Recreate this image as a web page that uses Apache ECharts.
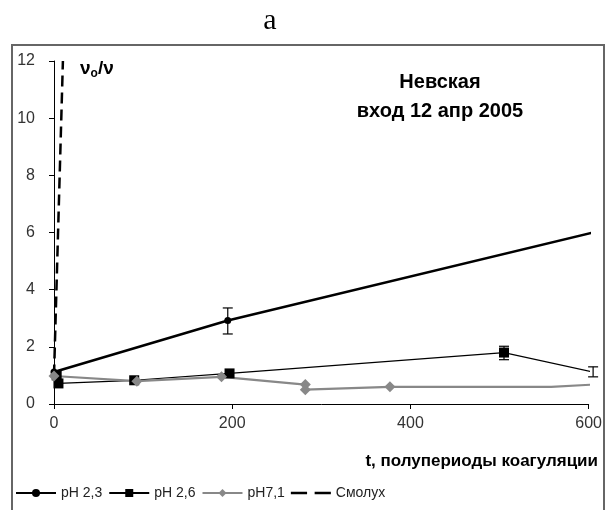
<!DOCTYPE html>
<html>
<head>
<meta charset="utf-8">
<script src="https://cdn.jsdelivr.net/npm/echarts@6/dist/echarts.min.js"></script>
<style>
  html, body { margin: 0; padding: 0; background: #fff; }
  #chart { width: 605px; height: 510px; }
</style>
</head>
<body>
<div id="chart"></div>
<script>
'use strict';
// данные
var seriesNames = ['pH 2,3', 'pH 2,6', 'pH7,1', 'Смолух'];
var ph23 = [[0, 1.12], [195, 2.92], [605, 6.0]];
var ph26 = [[3, 1.0], [5, 0.72], [90, 0.83], [197, 1.07], [505, 1.8], [605, 1.12]];
var ph71 = [[0, 0.98], [93, 0.8], [188, 0.95], [282, 0.68], [282, 0.5], [377, 0.6], [558, 0.6], [605, 0.68]];
var smolux = [[0, 1.0], [10, 12.0]];
// точки без маркера (за краем или перегиб линии)
var hiddenT = [558];
// планки погрешностей: t, низ, верх
var errT = [195, 505, 605];
var errLow = [2.45, 1.55, 0.95];
var errHigh = [3.36, 2.02, 1.3];
var xTicks = [0, 200, 400, 600];
var yTicks = [0, 2, 4, 6, 8, 10, 12];

var font = 'Liberation Sans, Arial, sans-serif';
var myChart = echarts.init(document.getElementById('chart'));

var xMax = xTicks[xTicks.length - 1];
function withMarks(arr) {
    return arr.map(function (p) {
        if (p[0] > xMax || hiddenT.indexOf(p[0]) >= 0) {
            return { value: p, symbol: 'none' };
        }
        return p;
    });
}

var errData = errT.map(function (t, i) { return [t, errLow[i], errHigh[i]]; });

var option = {
    animation: false,
    backgroundColor: '#fff',
    textStyle: { fontFamily: font },
    grid: { left: 54, top: 61, right: 15, bottom: 106, containLabel: false },
    xAxis: {
        type: 'value',
        min: xTicks[0], max: xMax, interval: 200,
        axisLine: { lineStyle: { color: '#000', width: 1 } },
        axisTick: { show: true, length: 5, inside: false, lineStyle: { color: '#000' } },
        axisLabel: { color: '#333', fontSize: 16, margin: 12, fontFamily: font },
        splitLine: { show: false }
    },
    yAxis: {
        type: 'value',
        min: yTicks[0], max: yTicks[yTicks.length - 1], interval: 2,
        axisLine: { show: true, lineStyle: { color: '#000', width: 1 } },
        axisTick: { show: true, length: 5, inside: false, lineStyle: { color: '#000' } },
        axisLabel: { color: '#333', fontSize: 16, margin: 19, fontFamily: font },
        splitLine: { show: false }
    },
    legend: {
        left: 10, top: 481,
        itemWidth: 40, itemHeight: 10, itemGap: 6,
        textStyle: { fontSize: 14, color: '#222', fontFamily: font },
        data: [
            seriesNames[0], seriesNames[1], seriesNames[2],
            { name: seriesNames[3], icon: 'path://M0,4h15v2.5h-15z M22,4h15v2.5h-15z', itemStyle: { color: '#000' } }
        ]
    },
    graphic: [
        { type: 'rect', shape: { x: 12, y: 45, width: 592, height: 480 },
          style: { fill: 'none', stroke: '#666', lineWidth: 2 }, silent: true },
        { type: 'text', x: 270, y: 6,
          style: { text: 'а', font: '30px "Liberation Serif", serif', fill: '#000', align: 'center' } },
        { type: 'text', x: 440, y: 68,
          style: { text: 'Невская\nвход 12 апр 2005', font: 'bold 20px ' + font, fill: '#000',
                   align: 'center', lineHeight: 29 } },
        { type: 'text', x: 80, y: 58,
          style: { text: '{a|ν}{s|o}{a|/ν}', fill: '#000',
                   rich: { a: { font: 'bold 19px ' + font }, s: { font: 'bold 12px ' + font, padding: [10, 0, 0, 0] } } } },
        { type: 'text', x: 598, y: 453,
          style: { text: 't, полупериоды коагуляции', font: 'bold 17px ' + font, fill: '#000', align: 'right' } }
    ],
    series: [
        {
            name: seriesNames[0], type: 'line', data: withMarks(ph23), clip: false,
            symbol: 'circle', symbolSize: 7,
            lineStyle: { color: '#000', width: 2.5 },
            itemStyle: { color: '#000' }
        },
        {
            name: seriesNames[1], type: 'line', data: withMarks(ph26), clip: false,
            symbol: 'rect', symbolSize: 10,
            lineStyle: { color: '#000', width: 1.2 },
            itemStyle: { color: '#000' }
        },
        {
            name: seriesNames[2], type: 'line', data: withMarks(ph71), clip: false,
            symbol: 'diamond', symbolSize: 11,
            showAllSymbol: true,
            lineStyle: { color: '#888', width: 2.2 },
            itemStyle: { color: '#888' }
        },
        {
            name: seriesNames[3], type: 'line', data: smolux, clip: false,
            symbol: 'none',
            lineStyle: { color: '#000', width: 2.5, type: [11, 6] },
            itemStyle: { color: '#000' }
        },
        {
            type: 'custom', name: 'err', data: errData, clip: false, z: 5,
            renderItem: function (params, api) {
                var t = api.value(0);
                var lo = api.coord([t, api.value(1)]);
                var hi = api.coord([t, api.value(2)]);
                var w = 5;
                var st = { stroke: '#000', lineWidth: 1.2 };
                return {
                    type: 'group',
                    children: [
                        { type: 'line', shape: { x1: lo[0], y1: lo[1], x2: hi[0], y2: hi[1] }, style: st },
                        { type: 'line', shape: { x1: lo[0] - w, y1: lo[1], x2: lo[0] + w, y2: lo[1] }, style: st },
                        { type: 'line', shape: { x1: hi[0] - w, y1: hi[1], x2: hi[0] + w, y2: hi[1] }, style: st }
                    ]
                };
            }
        }
    ]
};

myChart.setOption(option);
window.addEventListener('resize', function () {
    myChart.resize();
});
</script>
</body>
</html>
